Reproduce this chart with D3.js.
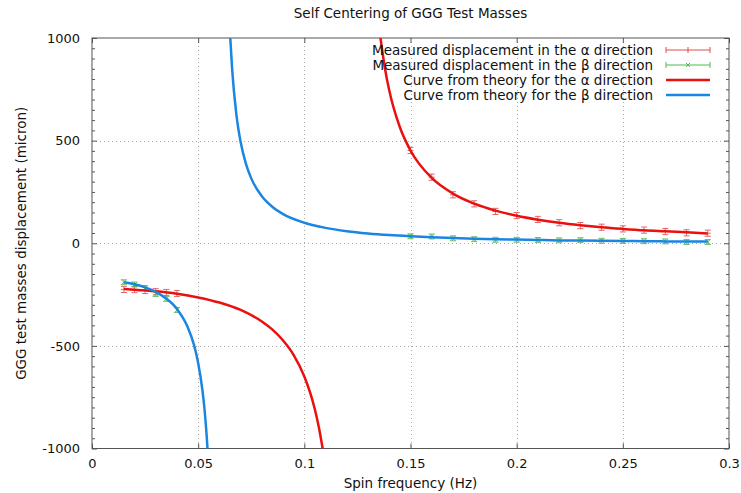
<!DOCTYPE html>
<html lang="en">
<head>
  <meta charset="UTF-8" />
  <title>Self Centering of GGG Test Masses</title>
  <style>
    body { margin: 0; padding: 0; background: #fff; }
    svg { display: block; font-family: "DejaVu Sans", sans-serif; }
  </style>
</head>
<body>
  <svg id="chart"></svg>

  <script src="https://d3js.org/d3.v7.min.js"></script>
  <script>
    const width = 741, height = 493;
    const margin = { top: 38, right: 12, bottom: 44.5, left: 92 };

    // measured points (Hz, micron)
    const freqLow = [0.015, 0.02, 0.025, 0.03, 0.035, 0.04];
    const freqHigh = [0.15, 0.16, 0.17, 0.18, 0.19, 0.2, 0.21, 0.22, 0.23, 0.24, 0.25, 0.26, 0.27, 0.28, 0.29];
    const alphaLow = [-225, -226, -230, -236, -240, -245];
    const alphaHigh = [452, 322, 236, 192, 155, 135, 116, 100, 86, 78, 70, 64, 57, 51, 49];
    const betaLow = [-190, -201, -218, -247, -271, -325];
    const betaHigh = [34, 33, 24, 20, 17, 17, 16, 14, 15, 12, 11, 10, 9, 6, 6];
    const alphaErr = 15, betaErr = 12;

    // theory curves
    const alphaCurveLow = [
      [0.015, -223], [0.02, -226], [0.03, -234], [0.04, -246], [0.05, -264], [0.06, -289],
      [0.07, -325], [0.08, -381], [0.085, -421], [0.09, -474], [0.095, -545], [0.1, -649],
      [0.103, -736], [0.105, -811], [0.107, -905], [0.1087, -1005]
    ];
    const alphaCurveHigh = [
      [0.1358, 1005], [0.138, 850], [0.14, 744], [0.145, 565], [0.15, 452], [0.16, 318],
      [0.17, 242], [0.18, 193], [0.19, 159], [0.2, 134], [0.21, 115], [0.22, 100], [0.23, 88],
      [0.24, 78], [0.25, 70], [0.26, 63], [0.27, 58], [0.28, 53], [0.29, 48]
    ];
    const betaCurveLow = [
      [0.015, -190], [0.02, -200], [0.025, -215], [0.03, -237], [0.035, -270], [0.04, -320],
      [0.045, -407], [0.048, -494], [0.05, -583], [0.052, -715], [0.053, -810], [0.054, -937],
      [0.0545, -1018]
    ];
    const betaCurveHigh = [
      [0.0651, 1005], [0.066, 848], [0.068, 626], [0.07, 493], [0.0725, 387], [0.075, 316],
      [0.08, 229], [0.085, 177], [0.09, 142], [0.1, 100], [0.11, 75], [0.12, 59], [0.13, 48],
      [0.14, 40], [0.15, 34], [0.16, 29], [0.17, 25], [0.18, 22], [0.19, 20], [0.2, 18],
      [0.21, 16], [0.22, 14], [0.23, 13], [0.24, 12], [0.25, 11], [0.26, 10], [0.27, 9],
      [0.28, 8.6], [0.29, 8]
    ];

    const xTicks = [0, 0.05, 0.1, 0.15, 0.2, 0.25, 0.3];
    const yTicks = [-1000, -500, 0, 500, 1000];

    const legendLabels = [
      "Measured displacement in the \u03b1 direction",
      "Measured displacement in the \u03b2 direction",
      "Curve from theory for the \u03b1 direction",
      "Curve from theory for the \u03b2 direction"
    ];

    const colAlphaPts = "#dd4d4d", colBetaPts = "#4fba4f";
    const colAlpha = "#ea1010", colBeta = "#1a86e2";
    const axisCol = "#555";

    const svg = d3.select("#chart").attr("width", width).attr("height", height);

    const x = d3.scaleLinear().domain([0, 0.3]).range([margin.left, width - margin.right]);
    const y = d3.scaleLinear().domain([-1000, 1000]).range([height - margin.bottom, margin.top]);

    svg.append("defs").append("clipPath").attr("id", "clip")
      .append("rect")
      .attr("x", x(0)).attr("y", y(1000))
      .attr("width", x(0.3) - x(0)).attr("height", y(-1000) - y(1000));

    // grid
    const grid = svg.append("g").attr("stroke", "#aaa").attr("stroke-dasharray", "1,3").attr("stroke-width", 1);
    xTicks.slice(1, -1).forEach(t => {
      grid.append("line").attr("x1", Math.round(x(t)) + 0.5).attr("x2", Math.round(x(t)) + 0.5)
        .attr("y1", y(1000)).attr("y2", y(-1000));
    });
    yTicks.slice(1, -1).forEach(t => {
      grid.append("line").attr("y1", Math.round(y(t)) + 0.5).attr("y2", Math.round(y(t)) + 0.5)
        .attr("x1", x(0)).attr("x2", x(0.3));
    });

    // axes with inward ticks
    const yMinor = d3.range(-1000, 1001, 50).filter(v => v % 500 !== 0);
    const plain = d => String(d).replace("\u2212", "-");

    svg.append("g").attr("transform", `translate(0,${y(-1000)})`)
      .call(d3.axisBottom(x).tickValues(xTicks).tickSize(-5).tickPadding(10).tickFormat(plain))
      .call(g => g.select(".domain").remove());
    svg.append("g").attr("transform", `translate(0,${y(1000)})`)
      .call(d3.axisTop(x).tickValues(xTicks).tickSize(-5).tickFormat(""))
      .call(g => g.select(".domain").remove());
    svg.append("g").attr("transform", `translate(${x(0)},0)`)
      .call(d3.axisLeft(y).tickValues(yTicks).tickSize(-5).tickPadding(12).tickFormat(plain))
      .call(g => g.select(".domain").remove());
    svg.append("g").attr("transform", `translate(${x(0)},0)`)
      .call(d3.axisLeft(y).tickValues(yMinor).tickSize(-3).tickFormat(""))
      .call(g => g.select(".domain").remove());
    svg.append("g").attr("transform", `translate(${x(0.3)},0)`)
      .call(d3.axisRight(y).tickValues(yTicks).tickSize(-5).tickFormat(""))
      .call(g => g.select(".domain").remove());
    svg.append("g").attr("transform", `translate(${x(0.3)},0)`)
      .call(d3.axisRight(y).tickValues(yMinor).tickSize(-3).tickFormat(""))
      .call(g => g.select(".domain").remove());

    svg.selectAll(".tick line").attr("stroke", axisCol);
    svg.selectAll(".tick text").attr("font-size", 13).attr("fill", "#111")
      .attr("font-family", "DejaVu Sans, sans-serif");

    // frame
    svg.append("rect")
      .attr("x", x(0)).attr("y", y(1000))
      .attr("width", x(0.3) - x(0)).attr("height", y(-1000) - y(1000))
      .attr("fill", "none").attr("stroke", axisCol).attr("stroke-width", 1);

    const plot = svg.append("g").attr("clip-path", "url(#clip)");

    function drawErrors(freqs, vals, err, color, marker) {
      const g = plot.append("g").attr("stroke", color).attr("stroke-width", 1).attr("opacity", 0.85);
      freqs.forEach((f, i) => {
        const cx = x(f), cy = y(vals[i]);
        const y1 = y(vals[i] + err), y2 = y(vals[i] - err);
        g.append("line").attr("x1", cx).attr("x2", cx).attr("y1", y1).attr("y2", y2);
        g.append("line").attr("x1", cx - 3).attr("x2", cx + 3).attr("y1", y1).attr("y2", y1);
        g.append("line").attr("x1", cx - 3).attr("x2", cx + 3).attr("y1", y2).attr("y2", y2);
        if (marker === "plus") {
          g.append("line").attr("x1", cx - 3).attr("x2", cx + 3).attr("y1", cy).attr("y2", cy);
        } else {
          g.append("line").attr("x1", cx - 2.5).attr("x2", cx + 2.5).attr("y1", cy - 2.5).attr("y2", cy + 2.5);
          g.append("line").attr("x1", cx - 2.5).attr("x2", cx + 2.5).attr("y1", cy + 2.5).attr("y2", cy - 2.5);
        }
      });
    }

    drawErrors(freqLow, alphaLow, alphaErr, colAlphaPts, "plus");
    drawErrors(freqHigh, alphaHigh, alphaErr, colAlphaPts, "plus");
    drawErrors(freqLow, betaLow, betaErr, colBetaPts, "cross");
    drawErrors(freqHigh, betaHigh, betaErr, colBetaPts, "cross");

    const line = d3.line().x(d => x(d[0])).y(d => y(d[1])).curve(d3.curveMonotoneX);
    [[alphaCurveLow, colAlpha], [alphaCurveHigh, colAlpha], [betaCurveLow, colBeta], [betaCurveHigh, colBeta]]
      .forEach(([pts, c]) => {
        plot.append("path").datum(pts).attr("d", line)
          .attr("fill", "none").attr("stroke", c).attr("stroke-width", 2.5);
      });

    // title and axis labels
    svg.append("text").attr("x", (x(0) + x(0.3)) / 2).attr("y", 18)
      .attr("text-anchor", "middle").attr("font-size", 13.5).attr("fill", "#111")
      .text("Self Centering of GGG Test Masses");
    svg.append("text").attr("x", (x(0) + x(0.3)) / 2).attr("y", 483).attr("dy", "0.35em")
      .attr("text-anchor", "middle").attr("font-size", 13.5).attr("fill", "#111")
      .text("Spin frequency (Hz)");
    svg.append("text")
      .attr("transform", `translate(21,${(y(1000) + y(-1000)) / 2}) rotate(-90)`)
      .attr("text-anchor", "middle").attr("dy", "0.35em").attr("font-size", 13.5).attr("fill", "#111")
      .text("GGG test masses displacement (micron)");

    // legend
    const legend = svg.append("g");
    const legendColors = [colAlphaPts, colBetaPts, colAlpha, colBeta];
    legendLabels.forEach((label, i) => {
      const ly = 50 + i * 15;
      legend.append("text").attr("x", 653).attr("y", ly).attr("dy", "0.35em")
        .attr("text-anchor", "end").attr("font-size", 13.5).attr("fill", "#111").text(label);
      if (i < 2) {
        const g = legend.append("g").attr("stroke", legendColors[i]).attr("stroke-width", 1);
        g.append("line").attr("x1", 666).attr("x2", 710).attr("y1", ly).attr("y2", ly);
        g.append("line").attr("x1", 666).attr("x2", 666).attr("y1", ly - 3).attr("y2", ly + 3);
        g.append("line").attr("x1", 710).attr("x2", 710).attr("y1", ly - 3).attr("y2", ly + 3);
        if (i === 0) {
          g.append("line").attr("x1", 688).attr("x2", 688).attr("y1", ly - 3).attr("y2", ly + 3);
        } else {
          g.append("line").attr("x1", 686).attr("x2", 690).attr("y1", ly - 2).attr("y2", ly + 2);
          g.append("line").attr("x1", 686).attr("x2", 690).attr("y1", ly + 2).attr("y2", ly - 2);
        }
      } else {
        legend.append("line").attr("x1", 666).attr("x2", 710).attr("y1", ly).attr("y2", ly)
          .attr("stroke", legendColors[i]).attr("stroke-width", 2.5);
      }
    });
  </script>
</body>
</html>
